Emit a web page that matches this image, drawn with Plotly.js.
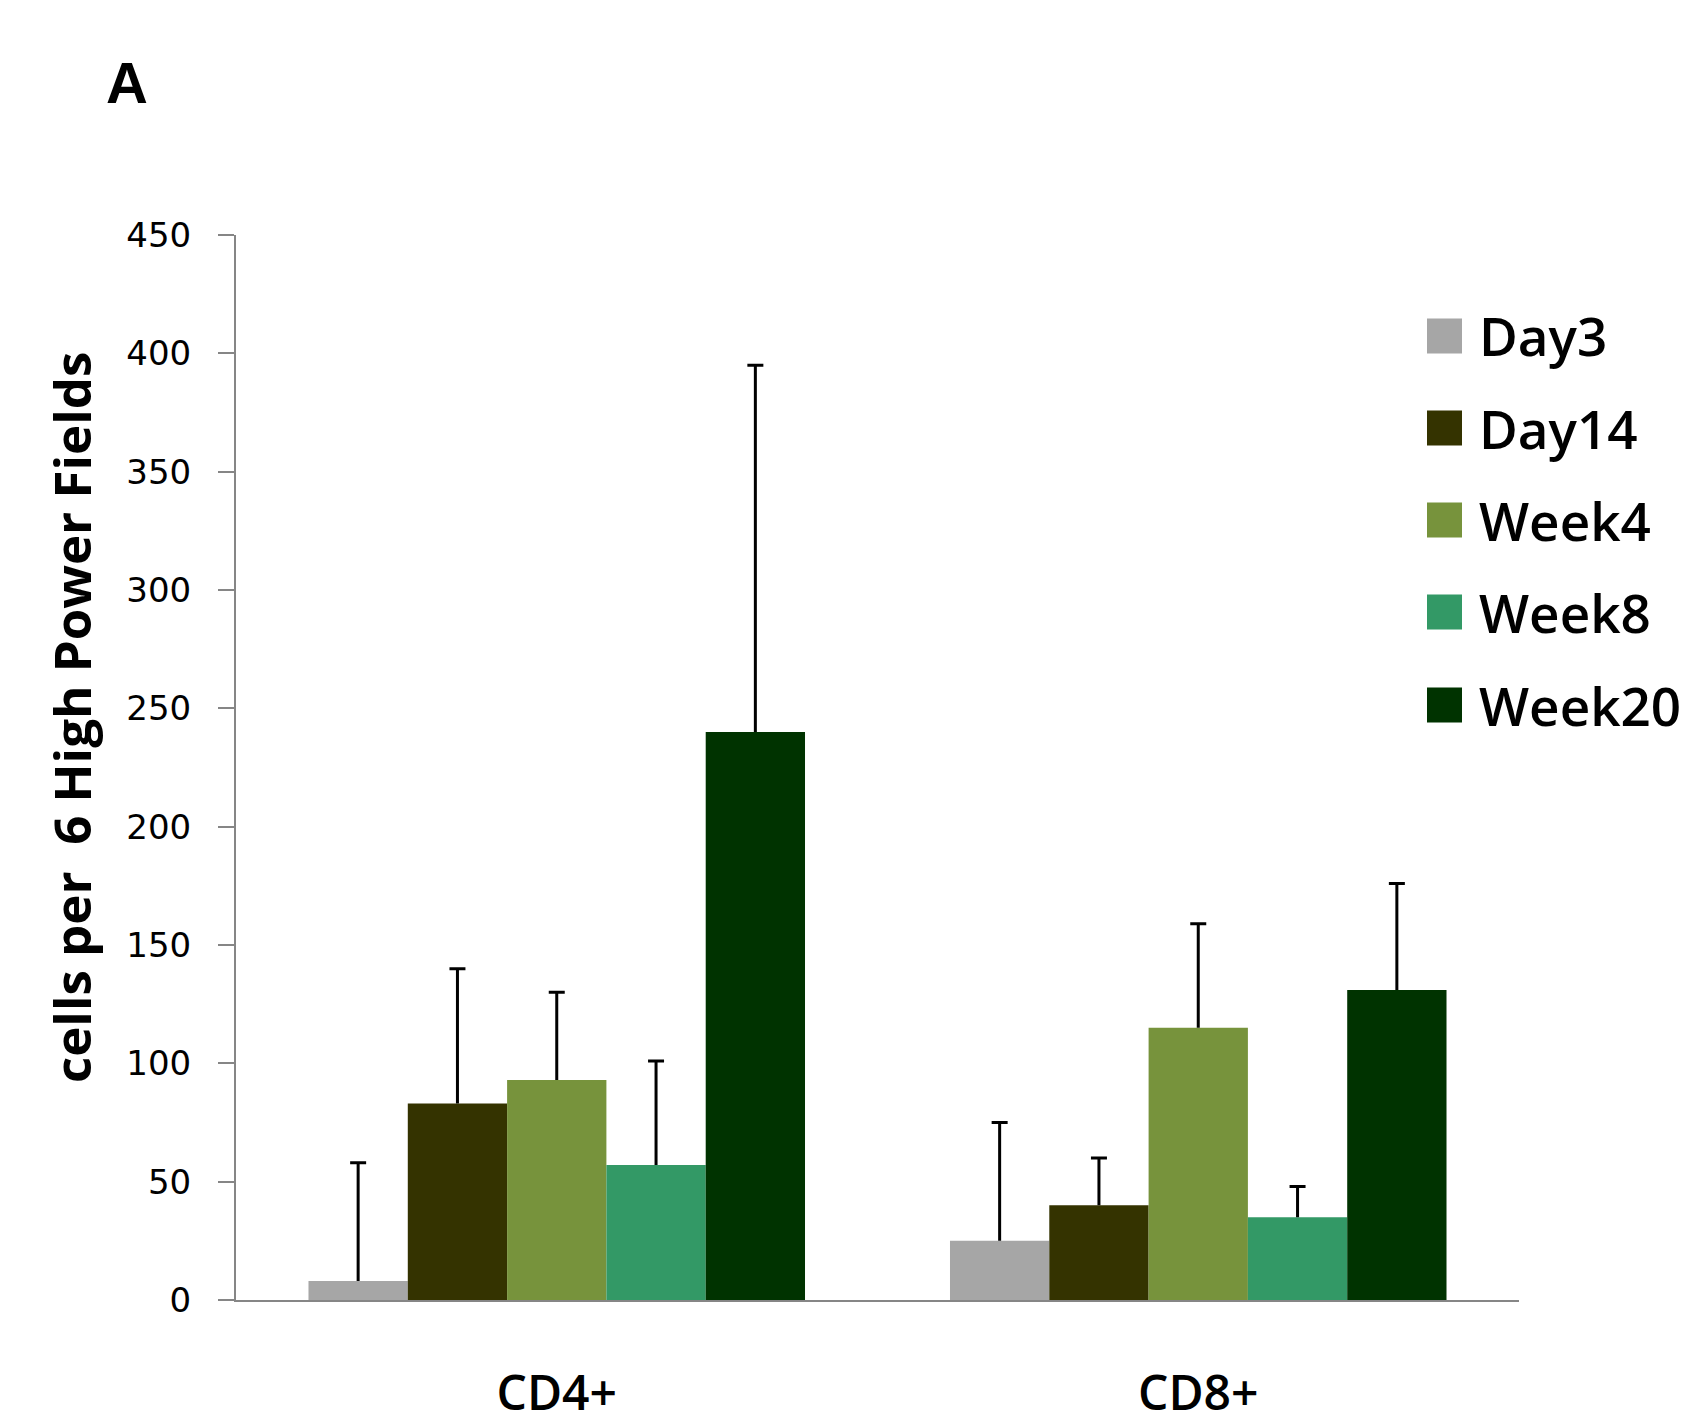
<!DOCTYPE html>
<html>
<head>
<meta charset="utf-8">
<script src="https://cdn.plot.ly/plotly-3.0.1.min.js"></script>
<style>html,body{margin:0;padding:0;background:#fff;}#chart{width:1682px;height:1423px;}</style>
</head>
<body>
<div id="chart"></div>
<script>
// ---- data ----
const categories = ["CD4+", "CD8+"];
const seriesNames = ["Day3", "Day14", "Week4", "Week8", "Week20"];
const seriesColors = ["#A6A6A6", "#343300", "#77933C", "#339966", "#003300"];
const day3   = [8, 25];
const day14  = [83, 40];
const week4  = [93, 115];
const week8  = [57, 35];
const week20 = [240, 131];
const day3Err   = [50, 50];
const day14Err  = [57, 20];
const week4Err  = [37, 44];
const week8Err  = [44, 13];
const week20Err = [155, 45];
const yTicks = [0, 50, 100, 150, 200, 250, 300, 350, 400, 450];

const values = [day3, day14, week4, week8, week20];
const errors = [day3Err, day14Err, week4Err, week8Err, week20Err];

// ---- layout geometry (pixels) ----
const W = 1682, H = 1423;
const M = {l: 236, r: 163, t: 235, b: 123};
const plotW = W - M.l - M.r, plotH = H - M.t - M.b;
const px = x => (x - M.l) / plotW;
const py = y => (H - M.b - y) / plotH;

const traces = seriesNames.map((name, i) => ({
  type: "bar",
  name: name,
  x: categories,
  y: values[i],
  marker: {color: seriesColors[i], line: {width: 0}},
  error_y: {type: "data", symmetric: false, array: errors[i],
            arrayminus: errors[i].map(() => 0), color: "#000", thickness: 3, width: 8},
  showlegend: false,
  hoverinfo: "x+y+name"
}));

const shapes = [];
const annotations = [];
const legendY = [336, 428, 520, 612, 705];
seriesNames.forEach((name, i) => {
  shapes.push({type: "rect", xref: "paper", yref: "paper",
    x0: px(1427), x1: px(1462), y0: py(legendY[i] + 17.5), y1: py(legendY[i] - 17.5),
    fillcolor: seriesColors[i], line: {width: 0}});
  annotations.push({xref: "paper", yref: "paper", x: px(1477), y: py(legendY[i]),
    xanchor: "left", yanchor: "middle", text: name, showarrow: false,
    font: {family: "Open Sans", size: 53, weight: 600, color: "#000"}});
});
annotations.push({xref: "paper", yref: "paper", x: px(71), y: py(718),
  xanchor: "center", yanchor: "middle", textangle: -90, showarrow: false,
  text: "<b>cells per  6 High Power Fields</b>",
  font: {family: "Open Sans", size: 51, color: "#000"}});
annotations.push({xref: "paper", yref: "paper", x: px(104), y: py(83),
  xanchor: "left", yanchor: "middle", showarrow: false, text: "<b>A</b>",
  font: {family: "Liberation Sans", size: 58, color: "#000"}});

const layout = {
  width: W, height: H,
  margin: M,
  paper_bgcolor: "#fff", plot_bgcolor: "#fff",
  barmode: "group", bargap: 0.226, bargroupgap: 0,
  showlegend: false,
  xaxis: {
    type: "category", range: [-0.5, 1.5],
    showline: true, linecolor: "#868686", linewidth: 2,
    ticks: "", showgrid: false, zeroline: false,
    tickfont: {family: "Open Sans", size: 48, weight: 600, color: "#000"},
    ticklabelstandoff: 50
  },
  yaxis: {
    range: [0, 450], tickvals: yTicks, ticktext: yTicks.map(String),
    showline: true, linecolor: "#868686", linewidth: 2,
    ticks: "outside", ticklen: 16, tickwidth: 2, tickcolor: "#868686",
    showgrid: false, zeroline: false,
    tickfont: {family: "DejaVu Sans", size: 34, color: "#000"},
    ticklabelstandoff: 20
  },
  shapes: shapes,
  annotations: annotations
};

Plotly.newPlot("chart", traces, layout, {displayModeBar: false, staticPlot: true}).then(gd => {
  // drop the bottom cap ("shoe") of each one-sided error bar
  gd.querySelectorAll(".errorbar path").forEach(p => {
    const d = p.getAttribute("d");
    if (d) p.setAttribute("d", d.replace(/m-[\d.]+,0h[\d.]+$/, ""));
  });
});
</script>
</body>
</html>
